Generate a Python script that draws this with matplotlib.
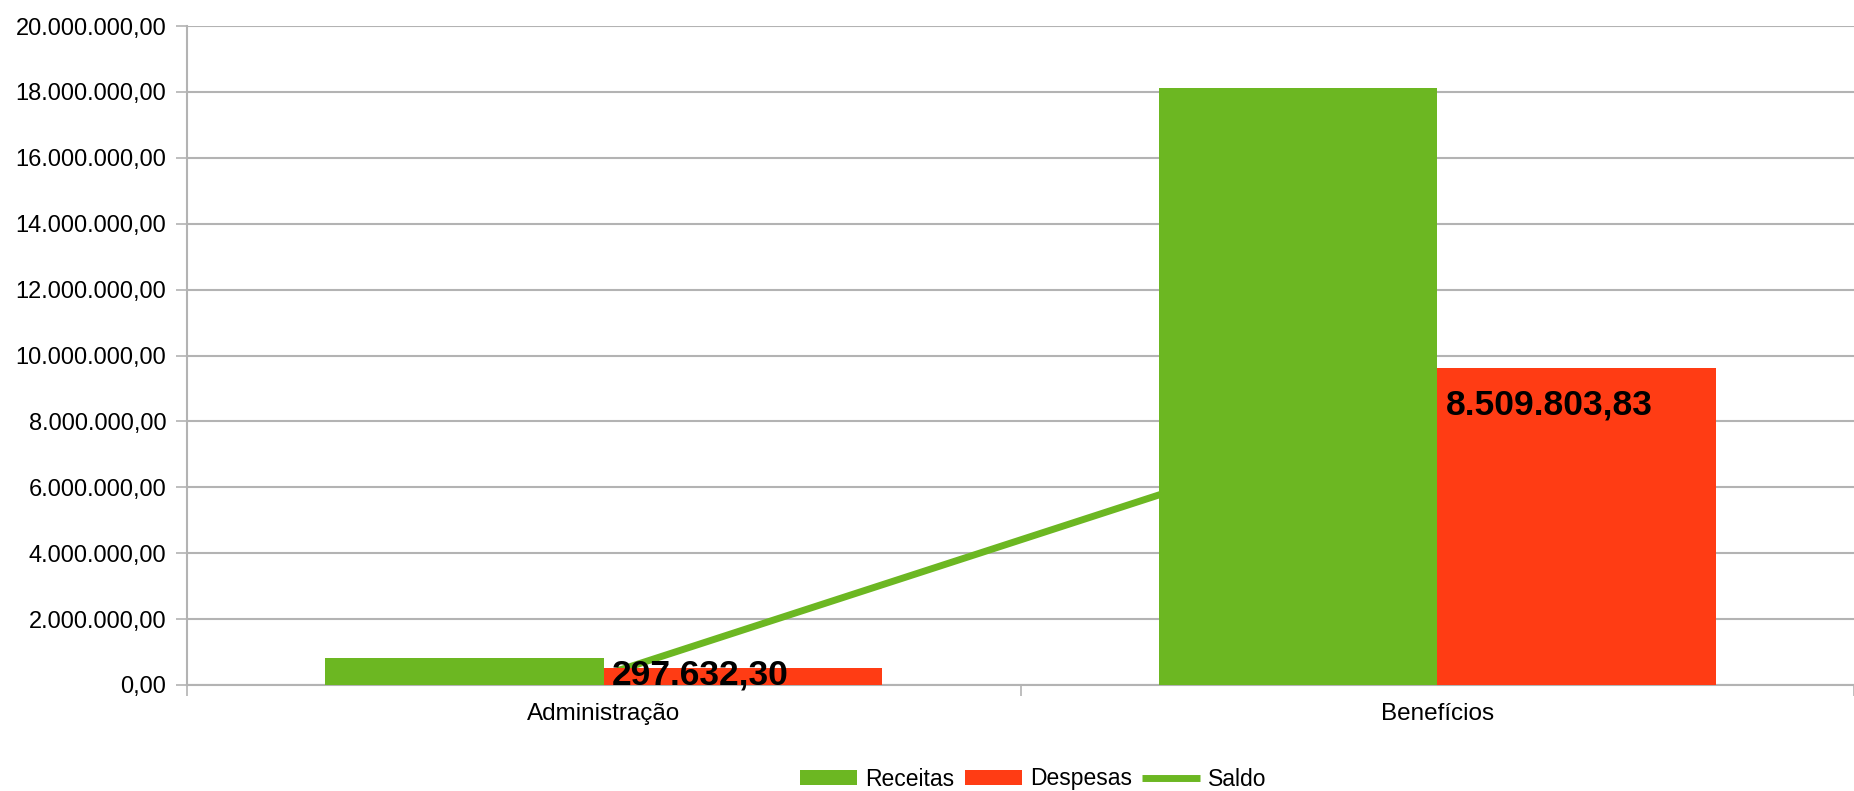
import matplotlib
matplotlib.use("Agg")
import matplotlib.pyplot as plt
from matplotlib.ticker import FuncFormatter, FixedLocator
import numpy as np

plt.rcParams['font.family'] = ['Liberation Sans', 'DejaVu Sans']

categories = ["Administração", "Benefícios"]
receitas = [827000.0, 18116000.0]
despesas = [529368.0, 9606196.0]
saldo = [297632.30, 8509803.83]
saldo_labels = ["297.632,30", "8.509.803,83"]

green = "#6cb722"
red = "#ff3c14"
grid_c = "#b3b3b3"

W, H = 1854, 791
fig = plt.figure(figsize=(W / 100, H / 100), dpi=100)
ax = fig.add_axes([187 / W, 106 / H, (W - 187) / W, (685 - 26) / H])

x = np.arange(len(categories))
bw = 0.334
h_r = ax.bar(x - bw / 2, receitas, width=bw, color=green, label="Receitas", zorder=3)
h_d = ax.bar(x + bw / 2, despesas, width=bw, color=red, label="Despesas", zorder=3)
h_s, = ax.plot(x, saldo, color=green, lw=5, label="Saldo", zorder=2, solid_capstyle='butt')

for xi, v, s in zip(x, saldo, saldo_labels):
    ax.annotate(s, (xi, v), xytext=(6, 0), textcoords='offset points',
                ha='left', va='center', fontsize=25.5, fontweight='bold',
                color='black', zorder=5)

ax.set_ylim(0, 20000000)
ax.set_xlim(-0.5, (W - 187) / 841 - 0.5)
ax.yaxis.set_major_locator(FixedLocator(np.arange(0, 20000001, 2000000)))

def fmt(v, pos):
    s = f"{v:,.2f}"
    return s.replace(",", "X").replace(".", ",").replace("X", ".")

ax.yaxis.set_major_formatter(FuncFormatter(fmt))
ax.grid(axis='y', color=grid_c, lw=1.5, zorder=0)
ax.set_axisbelow(True)

ax.set_xticks(x)
ax.set_xticklabels(categories)
ax.set_xticks([-0.5, 0.5, 1.5], minor=True)
ax.tick_params(axis='x', which='major', length=0, pad=13, labelsize=17.5)
ax.tick_params(axis='x', which='minor', length=8, width=1.2, color=grid_c, direction='out')
ax.tick_params(axis='y', length=8, width=1.2, color=grid_c, pad=7, labelsize=17, direction='out')

for sp in ['top', 'right']:
    ax.spines[sp].set_visible(False)
ax.spines['left'].set_color(grid_c)
ax.spines['left'].set_linewidth(1.5)
ax.spines['bottom'].set_color(grid_c)
ax.spines['bottom'].set_linewidth(1.5)

fig.legend([h_r, h_d, h_s], ["Receitas", "Despesas", "Saldo"],
           loc='center', bbox_to_anchor=(1033 / W, 12 / H), ncol=3,
           frameon=False, fontsize=16.5, handlelength=2.5, handleheight=0.58,
           handletextpad=0.36, columnspacing=0.45, borderpad=0, borderaxespad=0)

fig.savefig("out.png", dpi=100)
